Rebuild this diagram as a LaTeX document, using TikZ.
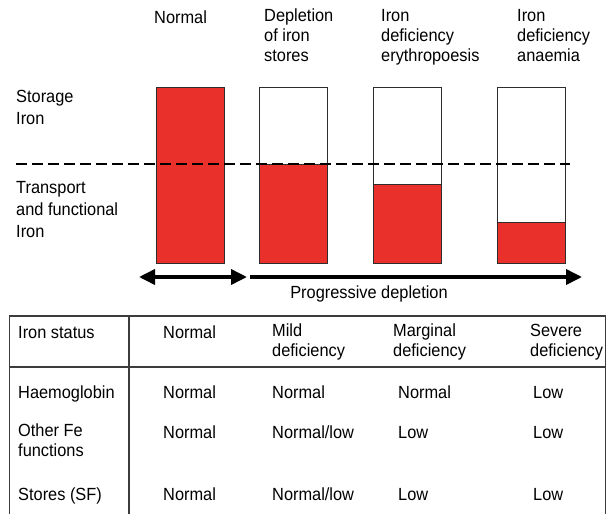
\documentclass[tikz,border=0pt]{standalone}
\usepackage{fontspec}
\setmainfont{Liberation Sans}[FakeStretch=0.93]
\usetikzlibrary{arrows.meta}
\definecolor{barred}{RGB}{234,48,42}
\definecolor{edgegray}{RGB}{45,45,45}
\definecolor{tablegray}{RGB}{60,60,60}
\begin{document}
\begin{tikzpicture}[x=1pt,y=-1pt,
  lbl/.style={font=\fontsize{17.6}{20}\selectfont, inner sep=0pt, anchor=north west, align=left, execute at begin node=\strut},
  sidelbl/.style={font=\fontsize{17.6}{22}\selectfont, inner sep=0pt, anchor=north west, align=left, execute at begin node=\strut},
  barbox/.style={draw=edgegray, line width=1.1pt, fill=white},
  redfill/.style={draw=edgegray, line width=1.1pt, fill=barred},
  levelline/.style={line width=2.8pt, dash pattern=on 11pt off 5pt, black},
  bigarrow/.style={line width=3.6pt, black, -{Triangle[length=16pt,width=15pt]}},
  dblarrow/.style={line width=3.6pt, black, {Triangle[length=16pt,width=15pt]}-{Triangle[length=16pt,width=15pt]}},
  tline/.style={draw=tablegray, line width=1.3pt}]
\useasboundingbox (0,0) rectangle (612,514);
\fill[white] (0,0) rectangle (612,514);

% column headings
\node[lbl] (hNormal) at (154,9) {Normal};
\node[lbl] (hDepl) at (264,9) {Depletion\\of iron\\stores};
\node[lbl] (hIDE) at (381,9) {Iron\\deficiency\\erythropoesis};
\node[lbl] (hIDA) at (517,9) {Iron\\deficiency\\anaemia};

% side labels
\node[sidelbl] (lStorage) at (16,89.6) {Storage\\Iron};
\node[sidelbl] (lTransport) at (16,181.6) {Transport\\and functional\\Iron};

% bars
\node[redfill, minimum width=68pt, minimum height=176pt, anchor=north west, inner sep=0pt] (bar1) at (156,87) {};
\node[barbox, minimum width=68pt, minimum height=176pt, anchor=north west, inner sep=0pt] (bar2) at (259,87) {};
\node[redfill, minimum width=68pt, minimum height=99pt, anchor=south west, inner sep=0pt] (red2) at (bar2.south west) {};
\node[barbox, minimum width=68pt, minimum height=176pt, anchor=north west, inner sep=0pt] (bar3) at (373,87) {};
\node[redfill, minimum width=68pt, minimum height=79pt, anchor=south west, inner sep=0pt] (red3) at (bar3.south west) {};
\node[barbox, minimum width=68pt, minimum height=176pt, anchor=north west, inner sep=0pt] (bar4) at (497,87) {};
\node[redfill, minimum width=68pt, minimum height=41pt, anchor=south west, inner sep=0pt] (red4) at (bar4.south west) {};

% dashed level line
\coordinate (dashL) at (16,164);
\coordinate (dashR) at (570,164);
\draw[levelline] (dashL) -- (dashR);

% arrows
\coordinate (a1L) at (139,277);
\coordinate (a1R) at (247,277);
\coordinate (a2L) at (250,277);
\coordinate (a2R) at (582,277);
\draw[dblarrow] (a1L) -- (a1R);
\draw[bigarrow] (a2L) -- (a2R);
\node[font=\fontsize{17.6}{20}\selectfont, inner sep=0pt, anchor=base] (prog) at (369,298) {Progressive depletion};

% table
\coordinate (tTL) at (9.5,316);
\coordinate (tTR) at (605.5,316);
\coordinate (tBL) at (9.5,514);
\coordinate (tBR) at (605.5,514);
\coordinate (dTop) at (129,316);
\coordinate (dBot) at (129,514);
\coordinate (hL) at (9.5,367);
\coordinate (hR) at (605.5,367);
\draw[tline] (tBL) -- (tTL) -- (tTR) -- (tBR);
\draw[tline] (dTop) -- (dBot);
\draw[tline] (hL) -- (hR);

\node[lbl] (tStatus) at (18,324) {Iron status};
\node[lbl] (tNormal) at (163,324) {Normal};
\node[lbl] (tMild) at (272,324) {Mild\\deficiency};
\node[lbl] (tMarg) at (393,324) {Marginal\\deficiency};
\node[lbl] (tSev) at (530,324) {Severe\\deficiency};

\node[lbl] (rHb) at (18,384) {Haemoglobin};
\node[lbl] (rHb1) at (163,384) {Normal};
\node[lbl] (rHb2) at (272,384) {Normal};
\node[lbl] (rHb3) at (398,384) {Normal};
\node[lbl] (rHb4) at (533,384) {Low};

\node[lbl] (rFe) at (18,424) {Other Fe\\functions};
\node[lbl] (rFe1) at (163,424) {Normal};
\node[lbl] (rFe2) at (272,424) {Normal/low};
\node[lbl] (rFe3) at (398,424) {Low};
\node[lbl] (rFe4) at (533,424) {Low};

\node[lbl] (rSF) at (18,486) {Stores (SF)};
\node[lbl] (rSF1) at (163,486) {Normal};
\node[lbl] (rSF2) at (272,486) {Normal/low};
\node[lbl] (rSF3) at (398,486) {Low};
\node[lbl] (rSF4) at (533,486) {Low};
\end{tikzpicture}
\end{document}
